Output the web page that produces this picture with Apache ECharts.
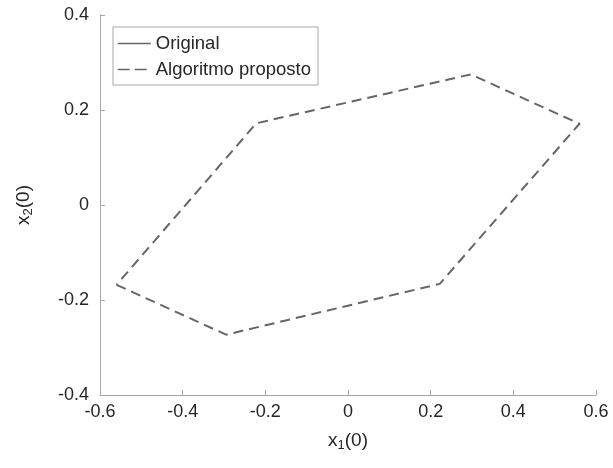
<!DOCTYPE html>
<html>
<head>
<meta charset="utf-8">
<script src="https://cdn.jsdelivr.net/npm/echarts@6/dist/echarts.min.js"></script>
<style>
  html, body { margin: 0; padding: 0; background: #fff; }
  #chart { width: 613px; height: 468px; }
</style>
</head>
<body>
<div id="chart"></div>
<script>
// vértices do conjunto (x1, x2), polígono fechado
const originalPts = [];
const propostoX = [-0.56, -0.295, 0.222, 0.56, 0.297, -0.222, -0.56];
const propostoY = [-0.168, -0.273, -0.166, 0.171, 0.275, 0.172, -0.168];
const xTicks = { min: -0.6, max: 0.6, step: 0.2 };
const yTicks = { min: -0.4, max: 0.4, step: 0.2 };

const proposto = propostoX.map((x, i) => [x, propostoY[i]]);

const chart = echarts.init(document.getElementById('chart'));
const axisGray = '#a6a6a6';
const textColor = '#262626';
const lineGray = '#666666';
const font = 'Liberation Sans, Arial, Helvetica, sans-serif';

const option = {
    animation: false,
    grid: { left: 100, right: 17, top: 15, bottom: 73 },
    legend: {
        orient: 'vertical',
        left: 113,
        top: 27,
        padding: [7, 7, 6, 4],
        itemGap: 7,
        itemWidth: 33,
        itemHeight: 14,
        borderColor: axisGray,
        borderWidth: 1,
        itemStyle: { opacity: 0 },
        textStyle: { fontSize: 18.5, color: textColor, fontFamily: font },
        data: [
            { name: 'Original', lineStyle: { color: lineGray, width: 1.5, type: 'solid' } },
            { name: 'Algoritmo proposto', lineStyle: { color: lineGray, width: 1.5, type: [12, 5] } }
        ]
    },
    xAxis: {
        type: 'value',
        min: xTicks.min, max: xTicks.max, interval: xTicks.step,
        name: 'x{sub|1}(0)',
        nameLocation: 'middle',
        nameGap: 34,
        nameTextStyle: {
            fontSize: 19, color: textColor, fontFamily: font,
            rich: { sub: { fontSize: 13, color: textColor, fontFamily: font, padding: [10, 0, 0, 0] } }
        },
        axisLine: { onZero: false, lineStyle: { color: axisGray, width: 1 } },
        axisTick: { inside: true, length: 5, lineStyle: { color: axisGray } },
        axisLabel: { fontSize: 18, color: textColor, fontFamily: font, margin: 8 },
        splitLine: { show: false }
    },
    yAxis: {
        type: 'value',
        min: yTicks.min, max: yTicks.max, interval: yTicks.step,
        name: 'x{sub|2}(0)',
        nameLocation: 'middle',
        nameGap: 65,
        nameRotate: 90,
        nameTextStyle: {
            fontSize: 19, color: textColor, fontFamily: font,
            rich: { sub: { fontSize: 13, color: textColor, fontFamily: font, padding: [10, 0, 0, 0] } }
        },
        axisLine: { show: true, onZero: false, lineStyle: { color: axisGray, width: 1 } },
        axisTick: { show: true, inside: true, length: 5, lineStyle: { color: axisGray } },
        axisLabel: { fontSize: 18, color: textColor, fontFamily: font, margin: 11 },
        splitLine: { show: false }
    },
    series: [
        {
            name: 'Original',
            type: 'line',
            symbol: 'none',
            data: originalPts,
            itemStyle: { color: lineGray },
            lineStyle: { color: lineGray, width: 1.5, type: 'solid' }
        },
        {
            name: 'Algoritmo proposto',
            type: 'line',
            symbol: 'none',
            data: proposto,
            itemStyle: { color: lineGray },
            lineStyle: { color: lineGray, width: 2, type: [10, 6], join: 'round' }
        }
    ]
};
chart.setOption(option);
</script>
</body>
</html>
